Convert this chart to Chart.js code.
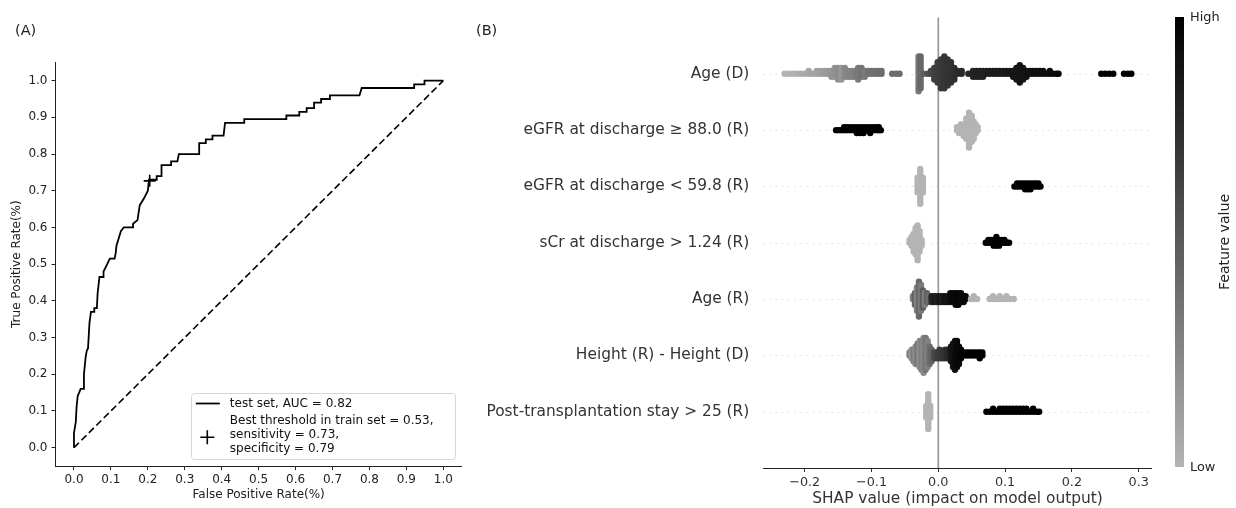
<!DOCTYPE html>
<html>
<head>
<meta charset="utf-8">
<script src="https://cdn.jsdelivr.net/npm/chart.js@4.4.1/dist/chart.umd.min.js"></script>
<style>
body{margin:0;background:#fff;width:1236px;height:508px;overflow:hidden;position:relative;font-family:"DejaVu Sans",sans-serif}
#wrapA{position:absolute;left:0;top:0;width:470px;height:508px}
#wrapB{position:absolute;left:470px;top:0;width:766px;height:508px}
.tag{position:absolute;top:22px;font-size:14.5px;color:#222;z-index:2}
</style>
</head>
<body>
<div id="wrapA"><canvas id="rocChart" width="470" height="508"></canvas></div>
<div id="wrapB"><canvas id="shapChart" width="766" height="508"></canvas></div>
<div class="tag" style="left:15px">(A)</div>
<div class="tag" style="left:476px">(B)</div>
<script>
Chart.defaults.font.family = '"DejaVu Sans", sans-serif';

// (A) ROC, test set
const ROC_FPR = [0, 0, 0.005, 0.007, 0.010, 0.014, 0.018, 0.027, 0.027, 0.032, 0.035, 0.038, 0.042, 0.046, 0.055, 0.055, 0.062, 0.064, 0.069, 0.080,
  0.080, 0.090, 0.097, 0.110, 0.113, 0.115, 0.127, 0.135, 0.160, 0.160, 0.172, 0.178, 0.190, 0.200, 0.203, 0.224, 0.224, 0.237, 0.237, 0.263,
  0.263, 0.280, 0.284, 0.339, 0.339, 0.357, 0.357, 0.375, 0.375, 0.405, 0.409, 0.461, 0.461, 0.575, 0.575, 0.610, 0.610, 0.630, 0.630, 0.650,
  0.650, 0.669, 0.669, 0.693, 0.693, 0.773, 0.779, 0.921, 0.921, 0.949, 0.949, 1.0];
const ROC_TPR = [0, 0.04, 0.07, 0.11, 0.14, 0.15, 0.16, 0.16, 0.20, 0.25, 0.265, 0.27, 0.34, 0.37, 0.37, 0.38, 0.38, 0.42, 0.465, 0.465,
  0.48, 0.50, 0.515, 0.515, 0.53, 0.55, 0.59, 0.60, 0.60, 0.61, 0.62, 0.66, 0.68, 0.70, 0.73, 0.73, 0.74, 0.74, 0.77, 0.77,
  0.78, 0.78, 0.80, 0.80, 0.83, 0.83, 0.84, 0.84, 0.85, 0.85, 0.885, 0.885, 0.895, 0.895, 0.905, 0.905, 0.915, 0.915, 0.925, 0.925,
  0.94, 0.94, 0.95, 0.95, 0.96, 0.96, 0.98, 0.98, 0.99, 0.99, 1.0, 1.0];
const BEST_POINT = [0.205, 0.727];
const ROC_TICKS = [0, 0.1, 0.2, 0.3, 0.4, 0.5, 0.6, 0.7, 0.8, 0.9, 1.0];
const LEGEND_ROC = "test set, AUC = 0.82";
const LEGEND_BEST = ["Best threshold in train set = 0.53,", "sensitivity = 0.73,", "specificity = 0.79"];

// (B) SHAP summary, features from top to bottom
const FEATURES = ["Age (D)", "eGFR at discharge \u2265 88.0 (R)", "eGFR at discharge < 59.8 (R)", "sCr at discharge > 1.24 (R)",
  "Age (R)", "Height (R) - Height (D)", "Post-transplantation stay > 25 (R)"];
const SHAP_TICKS = [-0.2, -0.1, 0, 0.1, 0.2, 0.3];
const SHAP_TICK_LABELS = ["\u22120.2", "\u22120.1", "0.0", "0.1", "0.2", "0.3"];
// bins: [shap value, number of samples, feature value 0 (low) .. 1 (high)]
const AGE_D = [[-0.230,1,0.00],[-0.224,1,0.00],[-0.218,1,0.02],[-0.212,1,0.03],[-0.206,1,0.05],[-0.200,1,0.06],[-0.194,2,0.08],[-0.188,1,0.09],
  [-0.182,2,0.10],[-0.176,2,0.12],[-0.170,2,0.14],[-0.165,2,0.15],[-0.160,3,0.17],[-0.155,4,0.19],[-0.150,5,0.22],[-0.145,5,0.16],
  [-0.140,4,0.24],[-0.135,3,0.26],[-0.130,3,0.28],[-0.125,3,0.31],[-0.120,5,0.33],[-0.115,4,0.36],[-0.110,3,0.32],[-0.105,2,0.37],
  [-0.100,2,0.38],[-0.095,2,0.38],[-0.090,2,0.39],[-0.085,2,0.40],[-0.069,1,0.40],[-0.063,1,0.40],[-0.058,1,0.40],
  [-0.0295,13,0.34],[-0.0265,12,0.42],[-0.022,1,0.48],[-0.016,1,0.55],[-0.011,2,0.60],
  [-0.006,5,0.64],[-0.001,8,0.66],[0.004,11,0.68],[0.009,12,0.70],[0.014,10,0.71],[0.019,8,0.72],[0.024,5,0.74],[0.029,2,0.76],
  [0.035,2,0.78],[0.045,1,0.80],[0.052,3,0.80],[0.057,3,0.81],[0.062,3,0.82],[0.067,3,0.82],[0.072,2,0.83],[0.077,2,0.84],[0.082,2,0.85],
  [0.087,2,0.85],[0.092,2,0.86],[0.097,2,0.86],[0.102,2,0.87],[0.107,2,0.87],[0.112,3,0.88],[0.117,5,0.88],[0.122,7,0.89],[0.127,5,0.89],
  [0.132,3,0.90],[0.137,2,0.90],[0.142,2,0.91],[0.147,2,0.91],[0.152,2,0.92],[0.157,2,0.92],[0.162,1,0.93],[0.167,2,0.93],[0.172,1,0.94],
  [0.177,1,0.94],[0.180,1,0.95],[0.244,1,1],[0.250,1,1],[0.256,1,1],[0.262,1,1],[0.278,1,1],[0.284,1,1],[0.289,1,1]];
const EGFR_88 = [[-0.153,1,1],[-0.149,1,1],[-0.145,1,1],[-0.141,2,1],[-0.137,2,1],[-0.132,2,1],[-0.127,2,1],[-0.122,3,1],[-0.117,3,1],
  [-0.112,3,1],[-0.107,2,1],[-0.102,3,1],[-0.097,2,1],[-0.092,2,1],[-0.089,2,1],[-0.086,1,1],
  [0.028,2,0],[0.031,3,0],[0.034,4,0],[0.038,5,0],[0.042,8,0],[0.046,13,0],[0.050,10,0],[0.053,7,0],[0.056,4,0],[0.059,2,0]];
const EGFR_59 = [[-0.031,6,0],[-0.027,13,0],[-0.023,6,0],
  [0.114,1,1],[0.118,2,1],[0.122,2,1],[0.126,2,1],[0.130,3,1],[0.134,3,1],[0.138,3,1],[0.142,2,1],[0.146,2,1],[0.150,2,1],[0.153,1,1]];
const SCR_124 = [[-0.043,2,0],[-0.040,4,0],[-0.037,7,0],[-0.034,10,0],[-0.031,13,0],[-0.028,8,0],[-0.025,3,0],
  [0.071,1,1],[0.075,2,1],[0.079,2,1],[0.083,3,1],[0.087,4,1],[0.091,3,1],[0.095,2,1],[0.099,2,1],[0.103,1,1],[0.106,1,1]];
const AGE_R = [[-0.038,2,0.30],[-0.035,5,0.45],[-0.032,9,0.28],[-0.029,13,0.42],[-0.026,10,0.32],[-0.023,7,0.48],[-0.020,5,0.30],
  [-0.017,4,0.45],[-0.014,3,0.40],
  [-0.010,3,0.80],[-0.006,3,0.85],[-0.002,3,0.82],[0.002,3,0.88],[0.006,3,0.85],[0.010,3,0.90],[0.014,3,0.88],[0.018,4,0.92],
  [0.022,4,0.95],[0.026,5,0.95],[0.030,5,0.97],[0.034,4,0.95],[0.038,3,0.95],[0.041,2,0.95],
  [0.049,1,0],[0.053,2,0],[0.058,1,0],[0.077,1,0],[0.082,2,0],[0.087,1,0],[0.092,2,0],[0.097,1,0],[0.102,2,0],[0.107,1,0],[0.113,1,0]];
const HEIGHT_DIFF = [[-0.043,2,0.30],[-0.040,4,0.18],[-0.037,5,0.30],[-0.034,7,0.22],[-0.031,8,0.35],[-0.028,10,0.20],[-0.025,11,0.30],
  [-0.022,13,0.24],[-0.019,12,0.35],[-0.016,10,0.28],[-0.013,7,0.40],[-0.010,5,0.45],
  [-0.006,3,0.60],[-0.002,3,0.65],[0.002,4,0.68],[0.006,3,0.70],[0.010,4,0.72],[0.014,4,0.78],
  [0.019,6,0.88],[0.022,9,0.90],[0.025,11,0.92],[0.028,10,0.95],[0.031,7,0.95],[0.034,4,0.97],
  [0.038,2,1],[0.042,2,1],[0.046,2,1],[0.050,2,1],[0.054,2,1],[0.058,2,1],[0.062,3,1],[0.066,2,1]];
const POST_STAY = [[-0.018,5,0],[-0.015,13,0],[-0.012,5,0],
  [0.072,1,1],[0.077,1,1],[0.082,2,1],[0.087,1,1],[0.092,2,1],[0.097,2,1],[0.102,2,1],[0.107,2,1],[0.112,2,1],[0.117,2,1],
  [0.122,2,1],[0.127,2,1],[0.132,2,1],[0.137,1,1],[0.142,2,1],[0.147,1,1],[0.151,1,1]];
const ROWS = [AGE_D, EGFR_88, EGFR_59, SCR_124, AGE_R, HEIGHT_DIFF, POST_STAY];

const LOW = 180; // grey level of "Low"
function grey(f){ const c = Math.round(LOW*(1-f)); return `rgb(${c},${c},${c})`; }

// beeswarm stacking like shap: 0, +1, -1, +2, -2 ... scaled into 0.9*row_height
function swarm(bins, pos){
  const maxLayer = Math.max(...bins.map(b=>Math.ceil((b[1]-1)/2)));
  const step = 0.9*0.4/(maxLayer+1);
  const pts=[], cols=[];
  bins.forEach(([v,n,f])=>{
    for(let k=0;k<n;k++){
      pts.push({x:v, y:pos + Math.ceil(k/2)*(k%2 ? 1 : -1)*step});
      cols.push(grey(f));
    }
  });
  return {pts, cols};
}

// ---- chart A
const rocLegend = {
  id:'rocLegend',
  afterDraw(chart){
    const {ctx, chartArea:a} = chart;
    const w=264, h=66, x=a.right-7-w, y=a.bottom-7-h;
    ctx.save();
    ctx.fillStyle='rgba(255,255,255,0.85)'; ctx.strokeStyle='#d6d6d6'; ctx.lineWidth=1;
    ctx.beginPath(); ctx.roundRect(Math.round(x)+0.5, Math.round(y)+0.5, w, h, 3); ctx.fill(); ctx.stroke();
    ctx.strokeStyle='#000'; ctx.lineWidth=1.8;
    ctx.beginPath(); ctx.moveTo(x+5, y+10.5); ctx.lineTo(x+29, y+10.5); ctx.stroke();
    const px=x+16.5, py=y+44.3;
    ctx.lineWidth=1.6;
    ctx.beginPath(); ctx.moveTo(px-7,py); ctx.lineTo(px+7,py); ctx.moveTo(px,py-7); ctx.lineTo(px,py+7); ctx.stroke();
    ctx.fillStyle='#111'; ctx.font='12px "DejaVu Sans"'; ctx.textBaseline='middle'; ctx.textAlign='left';
    ctx.fillText(LEGEND_ROC, x+39, y+10.5);
    LEGEND_BEST.forEach((t,i)=>ctx.fillText(t, x+39, y+28+i*13.7));
    ctx.restore();
  }
};

const setTicks = vals => s => { s.ticks = vals.map(v=>({value:v})); };

new Chart(document.getElementById("rocChart"), {
  type:"scatter",
  data:{ datasets:[
    {data:ROC_FPR.map((x,i)=>({x, y:ROC_TPR[i]})), showLine:true, borderColor:"#000", borderWidth:1.8, pointRadius:0, tension:0},
    {data:[{x:0,y:0},{x:1,y:1}], showLine:true, borderColor:"#000", borderWidth:1.6, borderDash:[7,3.5], pointRadius:0},
    {data:[{x:BEST_POINT[0], y:BEST_POINT[1]}], pointStyle:"cross", pointRadius:6, borderColor:"#000", borderWidth:1.6}
  ]},
  options:{
    responsive:false, animation:false, events:[],
    layout:{padding:{top:62.3, right:8.2, left:0, bottom:0}},
    plugins:{legend:{display:false}, tooltip:{enabled:false}},
    scales:{
      x:{type:"linear", min:-0.05, max:1.05, afterBuildTicks:setTicks(ROC_TICKS), afterFit:s=>{s.height=42;},
        ticks:{callback:v=>v.toFixed(1), color:"#222", font:{size:12}, padding:3, maxRotation:0, autoSkip:false},
        grid:{display:true, drawOnChartArea:false, tickLength:4, tickColor:"#222"},
        border:{display:true, color:"#222", width:1},
        title:{display:true, text:"False Positive Rate(%)", color:"#222", font:{size:12}, padding:{top:0, bottom:6}}},
      y:{type:"linear", min:-0.05, max:1.05, afterBuildTicks:setTicks(ROC_TICKS), afterFit:s=>{s.width=55.5;},
        ticks:{callback:v=>v.toFixed(1), color:"#222", font:{size:12}, padding:4, autoSkip:false},
        grid:{display:true, drawOnChartArea:false, tickLength:4, tickColor:"#222"},
        border:{display:true, color:"#222", width:1},
        title:{display:true, text:"True Positive Rate(%)", color:"#222", font:{size:12}, padding:{top:9.8, bottom:0}}}
    }
  },
  plugins:[rocLegend]
});

// ---- chart B
const shapDecor = {
  id:'shapDecor',
  beforeDatasetsDraw(chart){
    const {ctx, chartArea:a, scales:{x, y}} = chart;
    ctx.save();
    ctx.strokeStyle='#cccccc'; ctx.lineWidth=0.8; ctx.setLineDash([1.2,5]);
    FEATURES.forEach((f,i)=>{
      const py = Math.round(y.getPixelForValue(FEATURES.length-1-i))+0.5;
      ctx.beginPath(); ctx.moveTo(a.left, py); ctx.lineTo(a.right, py); ctx.stroke();
    });
    ctx.setLineDash([]);
    ctx.strokeStyle='#999999'; ctx.lineWidth=1.7;
    const x0 = x.getPixelForValue(0);
    ctx.beginPath(); ctx.moveTo(x0, a.top); ctx.lineTo(x0, a.bottom); ctx.stroke();
    ctx.restore();
  },
  afterDraw(chart){
    const {ctx, chartArea:a} = chart;
    const left=a.right+23.3, w=9, top=a.top-0.5, bot=a.bottom-1;
    ctx.save();
    const g = ctx.createLinearGradient(0, top, 0, bot);
    g.addColorStop(0, grey(1)); g.addColorStop(1, grey(0));
    ctx.fillStyle=g; ctx.fillRect(left, top, w, bot-top);
    ctx.fillStyle='#222'; ctx.font='12.9px "DejaVu Sans"'; ctx.textBaseline='middle'; ctx.textAlign='left';
    ctx.fillText("High", left+w+6, top+1);
    ctx.fillText("Low", left+w+6, bot+1);
    ctx.translate(left+w+41, (top+bot)/2); ctx.rotate(-Math.PI/2);
    ctx.textAlign='center'; ctx.font='14.1px "DejaVu Sans"';
    ctx.fillText("Feature value", 0, 0);
    ctx.restore();
  }
};

const swarms = ROWS.map((bins,i)=>swarm(bins, FEATURES.length-1-i));

new Chart(document.getElementById("shapChart"), {
  type:"scatter",
  data:{ datasets: swarms.map(s=>({data:s.pts, pointBackgroundColor:s.cols, pointBorderWidth:0, pointRadius:3.2})) },
  options:{
    responsive:false, animation:false, events:[],
    layout:{padding:{top:17.5, right:84.3, left:0, bottom:0}},
    plugins:{legend:{display:false}, tooltip:{enabled:false}},
    scales:{
      x:{type:"linear", min:-0.262, max:0.3195, afterBuildTicks:setTicks(SHAP_TICKS), afterFit:s=>{s.height=40;},
        ticks:{callback:(v,i)=>SHAP_TICK_LABELS[i], color:"#333", font:{size:12.8}, padding:3, maxRotation:0, autoSkip:false},
        grid:{display:true, drawOnChartArea:false, tickLength:4, tickColor:"#333"},
        border:{display:true, color:"#222", width:1},
        title:{display:true, text:"SHAP value (impact on model output)", color:"#333", font:{size:15.4}, padding:{top:0, bottom:0}}},
      y:{type:"linear", min:-1, max:7, afterBuildTicks:setTicks([0,1,2,3,4,5,6]), afterFit:s=>{s.width=293.3;},
        ticks:{callback:v=>FEATURES[FEATURES.length-1-v], color:"#333", font:{size:15.4}, padding:6, autoSkip:false},
        grid:{display:false}, border:{display:false}}
    }
  },
  plugins:[shapDecor]
});
</script>
</body>
</html>
